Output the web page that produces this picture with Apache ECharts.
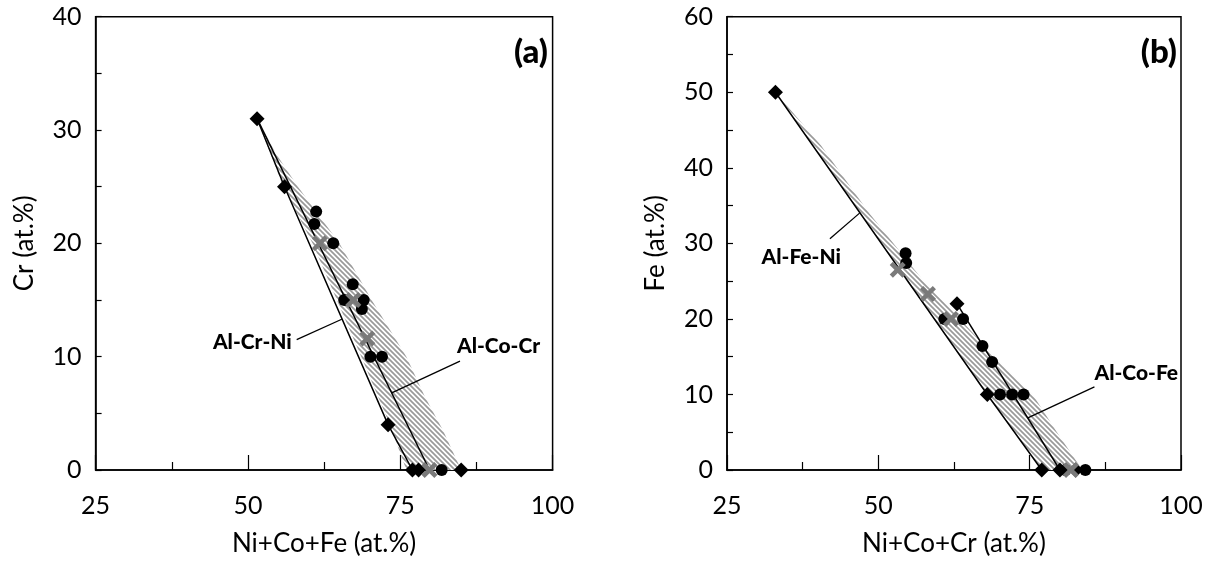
<!DOCTYPE html>
<html>
<head>
<meta charset="utf-8">
<script src="https://cdn.jsdelivr.net/npm/echarts@6/dist/echarts.min.js"></script>
<style>
  html, body { margin: 0; padding: 0; background: #fff; }
  #chart { width: 1217px; height: 562px; }
</style>
</head>
<body>
<div id="chart"></div>
<script>
// ---- panel (a): Cr vs Ni+Co+Fe ----
var aDiamonds = [[51.5, 31], [56, 25], [73, 4], [77, 0], [78, 0], [85, 0]];
var aCircles = [[61.2, 22.8], [60.9, 21.7], [64, 20], [67.2, 16.4], [65.8, 15], [69, 15], [68.7, 14.2], [70.1, 10], [72, 10], [81.8, 0]];
var aCrosses = [[61.8, 20], [67.3, 15], [69.6, 11.6], [79.8, 0]];
var aLineCrNi = [[51.5, 31], [56, 25], [73, 4], [77, 0]];
var aLineCoCr = [[51.5, 31], [79.8, 0]];
var aBandLeft = [[51.5, 31], [55.8, 25], [60.6, 20], [68.6, 10], [73.3, 4], [76, 0]];
var aBandRight = [[51.5, 31], [54.5, 28], [58.2, 25], [65, 20], [70.3, 15], [76, 10], [79, 6.5], [82, 3.5], [85, 0]];

// ---- panel (b): Fe vs Ni+Co+Cr ----
var bDiamonds = [[33, 50], [63, 22], [68, 10], [77, 0], [80, 0], [82.6, 0]];
var bCircles = [[54.5, 28.7], [54.6, 27.4], [60.9, 20], [64, 20], [67.2, 16.4], [68.8, 14.3], [70.1, 10], [72.1, 10], [74, 10], [80.9, 0], [84.2, 0]];
var bCrosses = [[53.2, 26.5], [58.2, 23.3], [62, 20], [81.8, 0]];
var bLineFeNi = [[33, 50], [68, 10], [77, 0]];
var bLineCoFe = [[63, 22], [80, 0]];
var bBandLeft = [[33, 50], [47.1, 34], [54.7, 25], [61, 18], [67.8, 10], [72, 5.5], [77, 0]];
var bBandRight = [[33, 50], [40.5, 43], [48.5, 34], [57.5, 25], [63.5, 20], [70, 14.3], [75.5, 10], [79.5, 5], [83.7, 0]];

// annotations: [x, y, text, align] and leader lines
var aNotes = [[57.2, 11.3, 'Al-Cr-Ni', 'right'], [84.3, 10.9, 'Al-Co-Cr', 'left']];
var aLeaders = [[[58.0, 11.5], [65.4, 13.3]], [[84.8, 9.6], [73.6, 6.8]]];
var bNotes = [[30.7, 28.2, 'Al-Fe-Ni', 'left'], [85.7, 12.8, 'Al-Co-Fe', 'left']];
var bLeaders = [[[42.0, 30.6], [46.9, 34.0]], [[85.7, 11.0], [74.7, 6.9]]];

var xTicks = [25, 50, 75, 100];

var FONT = 'Lato';
var crossPath = 'path://M2,0 L5,3 L8,0 L10,2 L7,5 L10,8 L8,10 L5,7 L2,10 L0,8 L3,5 L0,2 Z';

function makeHatch() {
  var n = 5;
  var c = document.createElement('canvas');
  c.width = n; c.height = n;
  var ctx = c.getContext('2d');
  ctx.fillStyle = '#ffffff';
  ctx.fillRect(0, 0, n, n);
  ctx.strokeStyle = '#9a9a9a';
  ctx.lineWidth = 1.7;
  ctx.beginPath();
  ctx.moveTo(-1, -1); ctx.lineTo(n + 1, n + 1);
  ctx.moveTo(-1, n - 1); ctx.lineTo(1, n + 1);
  ctx.moveTo(n - 1, -1); ctx.lineTo(n + 1, 1);
  ctx.stroke();
  return c;
}
var hatch = makeHatch();

function bandSeries(idx, left, right) {
  return {
    type: 'custom',
    xAxisIndex: idx, yAxisIndex: idx,
    silent: true, z: 1,
    data: [left[0]],
    renderItem: function (params, api) {
      var pts = left.concat(right.slice().reverse()).map(function (p) {
        return api.coord(p);
      });
      return {
        type: 'polygon',
        shape: { points: pts },
        style: { fill: { image: hatch, repeat: 'repeat' }, stroke: null }
      };
    }
  };
}

function lineSeries(idx, data, w) {
  return {
    type: 'line', xAxisIndex: idx, yAxisIndex: idx,
    data: data, symbol: 'none', silent: true, z: 2,
    lineStyle: { color: '#000', width: w }
  };
}

function pointSeries(idx, data, symbol, size, color, z) {
  return {
    type: 'scatter', xAxisIndex: idx, yAxisIndex: idx,
    data: data, symbol: symbol, symbolSize: size, z: z,
    itemStyle: { color: color, opacity: 1 }
  };
}

function noteSeries(idx, notes) {
  return {
    type: 'scatter', xAxisIndex: idx, yAxisIndex: idx,
    symbolSize: 0, silent: true, z: 6,
    itemStyle: { opacity: 1 },
    data: notes.map(function (n) {
      return {
        value: [n[0], n[1]],
        label: {
          show: true, position: [0, 0], formatter: n[2],
          align: n[3], verticalAlign: 'middle',
          fontFamily: FONT, fontWeight: 900, fontSize: 21, color: '#000',
          textBorderWidth: 0
        }
      };
    })
  };
}

function panelSeries(idx, d) {
  var s = [bandSeries(idx, d.bandL, d.bandR)];
  d.lines.forEach(function (l) { s.push(lineSeries(idx, l, 1.5)); });
  d.leaders.forEach(function (l) { s.push(lineSeries(idx, l, 1.3)); });
  s.push(pointSeries(idx, d.diamonds, 'diamond', 15, '#000', 3));
  s.push(pointSeries(idx, d.circles, 'circle', 12, '#000', 4));
  s.push(pointSeries(idx, d.crosses, crossPath, 16, '#7a7a7a', 5));
  s.push(noteSeries(idx, d.notes));
  return s;
}

function xAxis(idx, name) {
  return {
    type: 'value', gridIndex: idx, min: 25, max: 100, interval: 25,
    name: name, nameLocation: 'middle', nameGap: 61,
    nameTextStyle: { fontFamily: FONT, fontSize: 26, color: '#000' },
    axisLine: { lineStyle: { color: '#000', width: 1.5 } },
    axisTick: { inside: true, length: 15, lineStyle: { color: '#000', width: 1.2 } },
    minorTick: { show: true, splitNumber: 2, length: 8, lineStyle: { color: '#000', width: 1.2 } },
    axisLabel: {
      margin: 23, fontFamily: FONT, fontSize: 25, color: '#000',
      formatter: function (v) { return xTicks.indexOf(v) >= 0 ? String(v) : ''; }
    },
    splitLine: { show: false }
  };
}

function yAxis(idx, name, max) {
  return {
    type: 'value', gridIndex: idx, min: 0, max: max, interval: 10,
    name: name, nameLocation: 'middle', nameGap: 58,
    nameTextStyle: { fontFamily: FONT, fontSize: 26, color: '#000' },
    axisLine: { show: true, lineStyle: { color: '#000', width: 1.5 } },
    axisTick: { show: true, inside: true, length: 6, lineStyle: { color: '#000', width: 1.2 } },
    minorTick: { show: true, splitNumber: 2, length: 6, lineStyle: { color: '#000', width: 1.2 } },
    axisLabel: { margin: 14, fontFamily: FONT, fontSize: 25, color: '#000' },
    splitLine: { show: false }
  };
}

var chart = echarts.init(document.getElementById('chart'), null, { renderer: 'canvas' });

var option = {
  backgroundColor: '#fff',
  animation: false,
  textStyle: { fontFamily: FONT },
  grid: [
    { left: 95.6, top: 16.7, width: 457, height: 453.3, show: true, borderColor: '#000', borderWidth: 1.5, backgroundColor: 'transparent' },
    { left: 727, top: 16.7, width: 454, height: 453.3, show: true, borderColor: '#000', borderWidth: 1.5, backgroundColor: 'transparent' }
  ],
  xAxis: [xAxis(0, 'Ni+Co+Fe (at.%)'), xAxis(1, 'Ni+Co+Cr (at.%)')],
  yAxis: [yAxis(0, 'Cr (at.%)', 40), yAxis(1, 'Fe (at.%)', 60)],
  graphic: [
    { type: 'text', right: 1217 - 548, top: 36, style: { text: '(a)', fontFamily: FONT, fontWeight: 900, fontSize: 33, fill: '#000' } },
    { type: 'text', right: 1217 - 1177, top: 36, style: { text: '(b)', fontFamily: FONT, fontWeight: 900, fontSize: 33, fill: '#000' } }
  ],
  series: panelSeries(0, {
    bandL: aBandLeft, bandR: aBandRight, lines: [aLineCrNi, aLineCoCr], leaders: aLeaders,
    diamonds: aDiamonds, circles: aCircles, crosses: aCrosses, notes: aNotes
  }).concat(panelSeries(1, {
    bandL: bBandLeft, bandR: bBandRight, lines: [bLineFeNi, bLineCoFe], leaders: bLeaders,
    diamonds: bDiamonds, circles: bCircles, crosses: bCrosses, notes: bNotes
  }))
};

chart.setOption(option);
</script>
</body>
</html>
